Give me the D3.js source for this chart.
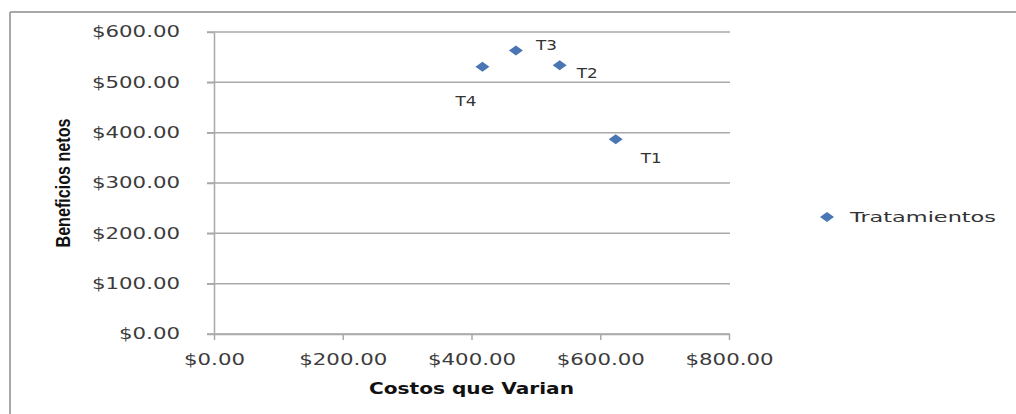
<!DOCTYPE html>
<html>
<head>
<meta charset="utf-8">
<script src="https://cdn.jsdelivr.net/npm/d3@7"></script>
<style>
  body { margin: 0; background: #fff; }
  svg { display: block; }
  .tick-label { font-family: "DejaVu Sans", Verdana, sans-serif; font-size: 15px; fill: #3c3c3c; }
  .pt-label { font-family: "DejaVu Sans", Verdana, sans-serif; font-size: 14px; fill: #333; }
  .x-title { font-family: "DejaVu Sans", Verdana, sans-serif; font-size: 15px; font-weight: bold; fill: #111; }
  .y-title { font-family: "Liberation Sans Narrow", "Arial Narrow", sans-serif; font-size: 20px; font-weight: bold; fill: #111; }
</style>
</head>
<body>
<div class="chart"></div>
<script>
// data
const labels = ['T1', 'T2', 'T3', 'T4']
const costos = [624, 537, 469, 417]
const beneficios = [387, 534, 563, 531]
const xTicks = [0, 200, 400, 600, 800]
const yTicks = [0, 100, 200, 300, 400, 500, 600]
const seriesName = 'Tratamientos'

const width = 1016
const height = 414
const gridColor = '#a9a9a9'
const markColor = '#4a76b3'

let svg = d3.select('.chart').append('svg')
  .attr('width', width)
  .attr('height', height)

// outer frame (only top + left show in the crop)
svg.append('line')
  .attr('x1', 10).attr('x2', width)
  .attr('y1', 12).attr('y2', 12)
  .attr('stroke', '#a8a8a8').attr('stroke-width', 2)
svg.append('line')
  .attr('x1', 10).attr('x2', 10)
  .attr('y1', 12).attr('y2', height)
  .attr('stroke', '#a8a8a8').attr('stroke-width', 2)

let xScale = d3.scaleLinear().domain([0, 800]).range([214, 729])
let yScale = d3.scaleLinear().domain([0, 600]).range([334, 32])

let money = d => '$' + d3.format('.2f')(d)

// stretch a text to a given width (the original is horizontally stretched)
function stretch(sel, k) {
  sel.each(function () {
    let w = this.getComputedTextLength()
    d3.select(this).attr('textLength', w * k).attr('lengthAdjust', 'spacingAndGlyphs')
  })
}

// horizontal gridlines, running into the tick marks
svg.append('g').selectAll('line')
  .data(yTicks)
  .enter()
  .append('line')
    .attr('x1', xScale(0) - 7)
    .attr('x2', xScale(800) + 1)
    .attr('y1', d => yScale(d))
    .attr('y2', d => yScale(d))
    .attr('stroke', gridColor)
    .attr('stroke-width', 1.5)

// y axis
let yG = svg.append('g')
  .attr('transform', 'translate(' + xScale(0) + ',0)')
  .call(d3.axisLeft(yScale).tickValues(yTicks).tickFormat(money).tickSizeInner(7).tickSizeOuter(0).tickPadding(27))
yG.select('.domain').attr('stroke', gridColor).attr('stroke-width', 1.5)
yG.selectAll('.tick line').attr('stroke', gridColor).attr('stroke-width', 1.5)
yG.selectAll('.tick text').attr('class', 'tick-label')
stretch(yG.selectAll('.tick text'), 1.42)
yG.attr('font-size', null).attr('font-family', null)

// x axis
let xG = svg.append('g')
  .attr('transform', 'translate(0,' + yScale(0) + ')')
  .call(d3.axisBottom(xScale).tickValues(xTicks).tickFormat(money).tickSizeInner(6).tickSizeOuter(0).tickPadding(14))
xG.select('.domain').attr('stroke', gridColor).attr('stroke-width', 1.5)
xG.selectAll('.tick line').attr('stroke', gridColor).attr('stroke-width', 1.5)
xG.selectAll('.tick text').attr('class', 'tick-label')
stretch(xG.selectAll('.tick text'), 1.42)
xG.attr('font-size', null).attr('font-family', null)

// axis titles
svg.append('text')
  .attr('class', 'x-title')
  .attr('x', (xScale(0) + xScale(800)) / 2)
  .attr('y', 394)
  .attr('text-anchor', 'middle')
  .attr('textLength', 205)
  .attr('lengthAdjust', 'spacingAndGlyphs')
  .text('Costos que Varian')

svg.append('text')
  .attr('class', 'y-title')
  .attr('transform', 'translate(70,' + (yScale(0) + yScale(600)) / 2 + ') rotate(-90)')
  .attr('text-anchor', 'middle')
  .attr('textLength', 129)
  .attr('lengthAdjust', 'spacingAndGlyphs')
  .text('Beneficios netos')

// diamond marker, flattened like the picture
let diamond = 'M-7,0L0,-5L7,0L0,5Z'

let points = labels.map((l, i) => ({ label: l, x: costos[i], y: beneficios[i] }))

svg.selectAll('path.pt')
  .data(points)
  .enter()
  .append('path')
    .attr('class', 'pt')
    .attr('d', diamond)
    .attr('transform', d => 'translate(' + xScale(d.x) + ',' + yScale(d.y) + ')')
    .attr('fill', markColor)

// label offsets per point (T4 sits below-left, others to the right)
let offsets = { T1: [25, 19], T2: [17, 8], T3: [20, -6], T4: [-27, 34] }

let ptLabels = svg.selectAll('text.pt-label')
  .data(points)
  .enter()
  .append('text')
    .attr('class', 'pt-label')
    .attr('x', d => xScale(d.x) + offsets[d.label][0])
    .attr('y', d => yScale(d.y) + offsets[d.label][1] + 5)
    .text(d => d.label)
stretch(ptLabels, 1.2)

// legend
let legend = svg.append('g').attr('transform', 'translate(827,217)')
legend.append('path')
  .attr('d', diamond)
  .attr('fill', markColor)
legend.append('text')
  .attr('class', 'pt-label')
  .attr('x', 23)
  .attr('y', 5)
  .attr('font-size', 15)
  .attr('textLength', 146)
  .attr('lengthAdjust', 'spacingAndGlyphs')
  .text(seriesName)
</script>
</body>
</html>
